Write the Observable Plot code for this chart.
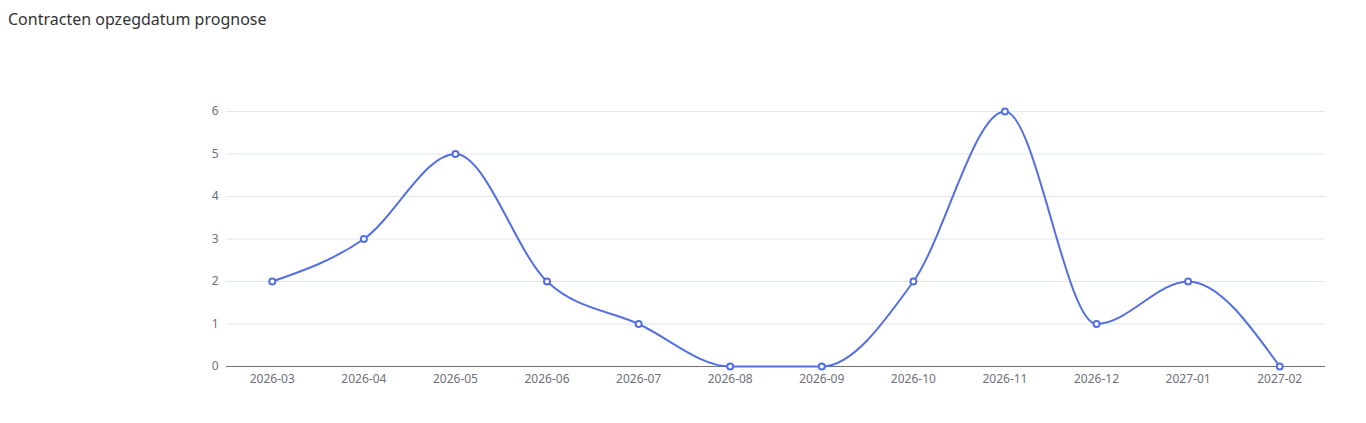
<!DOCTYPE html>
<html>
<head>
<meta charset="utf-8">
<script src="https://cdn.jsdelivr.net/npm/d3@7"></script>
<script src="https://cdn.jsdelivr.net/npm/@observablehq/plot@0.6"></script>
<style>
  body { margin: 0; background: #fff; }
  #wrap { position: relative; width: 1366px; height: 423px; }
  #title { position: absolute; left: 8px; top: 8px; font-family: "Noto Sans", sans-serif; font-size: 16px; color: #333; }
  svg { display: block; }
</style>
</head>
<body>
<div id="wrap">
  <div id="title">Contracten opzegdatum prognose</div>
  <div id="chart"></div>
</div>
<script>
const months = ["2026-03","2026-04","2026-05","2026-06","2026-07","2026-08","2026-09","2026-10","2026-11","2026-12","2027-01","2027-02"];
const counts = [2, 3, 5, 2, 1, 0, 0, 2, 6, 1, 2, 0];
const yTicks = [0, 1, 2, 3, 4, 5, 6];

const data = months.map((m, i) => ({month: m, count: counts[i]}));
const lineColor = "#5470e0";

const chart = Plot.plot({
  width: 1366,
  height: 423,
  marginTop: 111,
  marginBottom: 57,
  marginLeft: 226,
  marginRight: 41,
  style: {fontFamily: "'Noto Sans', sans-serif", fontSize: "12px", color: "#6e7079", background: "white"},
  x: {type: "point", domain: months, padding: 0.5, round: false, label: null},
  y: {domain: [0, 6], label: null},
  marks: [
    Plot.gridY(yTicks, {stroke: "#e0e6f1", strokeOpacity: 1}),
    Plot.ruleY([0], {stroke: "#6e7079", strokeWidth: 1}),
    Plot.axisY(yTicks, {tickSize: 0, tickPadding: 8, fill: "#6e7079", fontSize: 12}),
    Plot.axisX(months, {tickSize: 0, tickPadding: 8, fill: "#6e7079", fontSize: 12}),
    Plot.line(data, {x: "month", y: "count", curve: "monotone-x", stroke: lineColor, strokeWidth: 2}),
    Plot.dot(data, {x: "month", y: "count", r: 3, fill: "white", stroke: lineColor, strokeWidth: 2})
  ]
});
document.getElementById("chart").appendChild(chart);
</script>
</body>
</html>
